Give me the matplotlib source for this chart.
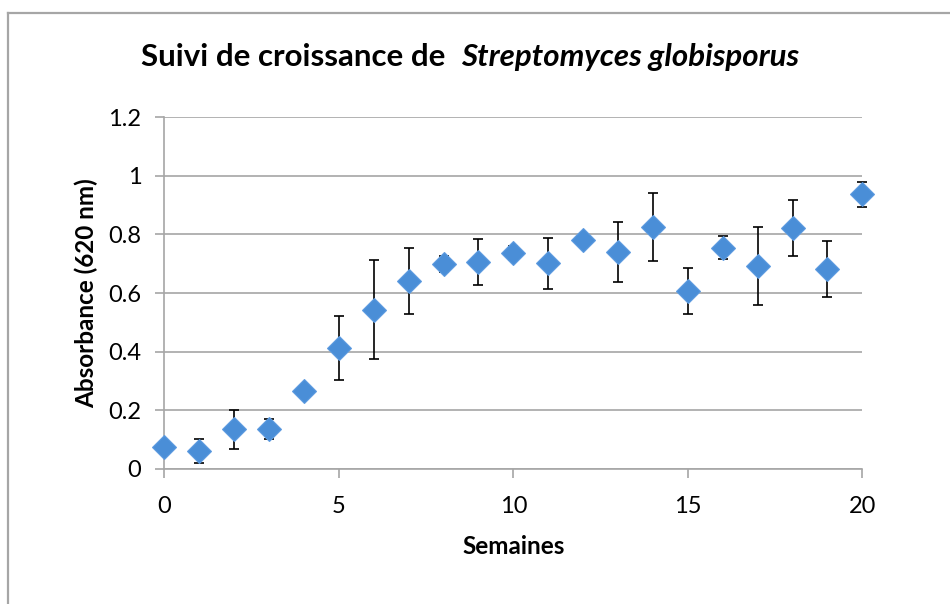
import matplotlib
matplotlib.use("Agg")
import matplotlib.pyplot as plt

# Growth follow-up data (absorbance at 620 nm, weekly)
semaines = list(range(21))
absorbance = [0.074, 0.061, 0.134, 0.137, 0.265, 0.413, 0.543, 0.641, 0.700, 0.706,
              0.736, 0.701, 0.781, 0.741, 0.825, 0.607, 0.755, 0.693, 0.822, 0.682,
              0.937]
ecart = [0.010, 0.040, 0.067, 0.034, 0.010, 0.109, 0.168, 0.113, 0.027, 0.080,
         0.025, 0.087, 0.010, 0.102, 0.116, 0.078, 0.040, 0.134, 0.095, 0.097,
         0.043]
yticks = [0, 0.2, 0.4, 0.6, 0.8, 1, 1.2]
ytick_labels = ["0", "0.2", "0.4", "0.6", "0.8", "1", "1.2"]
xticks = [0, 5, 10, 15, 20]

FONT = "Lato"
GRID = "#a6a6a6"

fig = plt.figure(figsize=(9.5, 6.04), dpi=100)
fig.patch.set_facecolor("white")

# chart frame (top and left edges)
fig.add_artist(plt.Line2D([7.5 / 950, 1.0], [1 - 12.5 / 604, 1 - 12.5 / 604],
                          transform=fig.transFigure, color="#a6a6a6", lw=1.6))
fig.add_artist(plt.Line2D([7.5 / 950, 7.5 / 950], [0, 1 - 12.5 / 604],
                          transform=fig.transFigure, color="#a6a6a6", lw=1.6))

ax = fig.add_axes([164.3 / 950, 1 - 468.7 / 604, (862.3 - 164.3) / 950, (468.7 - 117.3) / 604])
ax.set_xlim(0, 20)
ax.set_ylim(0, 1.2)

ax.errorbar(semaines, absorbance, yerr=ecart, fmt="none", ecolor="black",
            elinewidth=1.2, capsize=3.8, capthick=1.2, zorder=3, clip_on=False)
ax.plot(semaines, absorbance, linestyle="none", marker="D", markersize=12.5,
        markerfacecolor="#4a8ed7", markeredgecolor="#5d9be0", markeredgewidth=0.8,
        zorder=4, clip_on=False)

ax.set_yticks(yticks)
ax.set_yticklabels(ytick_labels)
ax.set_xticks(xticks)
ax.yaxis.grid(True, color=GRID, lw=1.2)
ax.set_axisbelow(True)

for side in ("top", "right"):
    ax.spines[side].set_visible(False)
for side in ("left", "bottom"):
    ax.spines[side].set_color(GRID)
    ax.spines[side].set_linewidth(1.2)

ax.tick_params(axis="both", direction="out", length=6.5, width=1.2, color=GRID,
               labelsize=17)
ax.tick_params(axis="y", pad=10)
ax.tick_params(axis="x", pad=13)
for lab in ax.get_xticklabels() + ax.get_yticklabels():
    lab.set_fontfamily(FONT)

ax.set_xlabel("Semaines", fontfamily=FONT, fontweight="bold", fontsize=17.5, labelpad=13)
ax.set_ylabel("Absorbance (620 nm)", fontfamily=FONT, fontweight="bold", fontsize=17.5, labelpad=7)

# title with an italic species name, centred as one line
part1 = "Suivi de croissance de  "
part2 = "Streptomyces globisporus"
ty = 1 - 57 / 604
fig.canvas.draw()
r = fig.canvas.get_renderer()
t1 = fig.text(0, ty, part1, fontfamily=FONT, fontweight="bold", fontsize=22.5, va="center")
t2 = fig.text(0, ty, part2, fontfamily=FONT, fontweight="bold", fontstyle="italic",
              fontsize=22.5, va="center")
w1 = t1.get_window_extent(r).width / 950
w2 = t2.get_window_extent(r).width / 950
x0 = 470 / 950 - (w1 + w2) / 2
t1.set_x(x0)
t2.set_x(x0 + w1)

fig.savefig("out.png", dpi=100)
